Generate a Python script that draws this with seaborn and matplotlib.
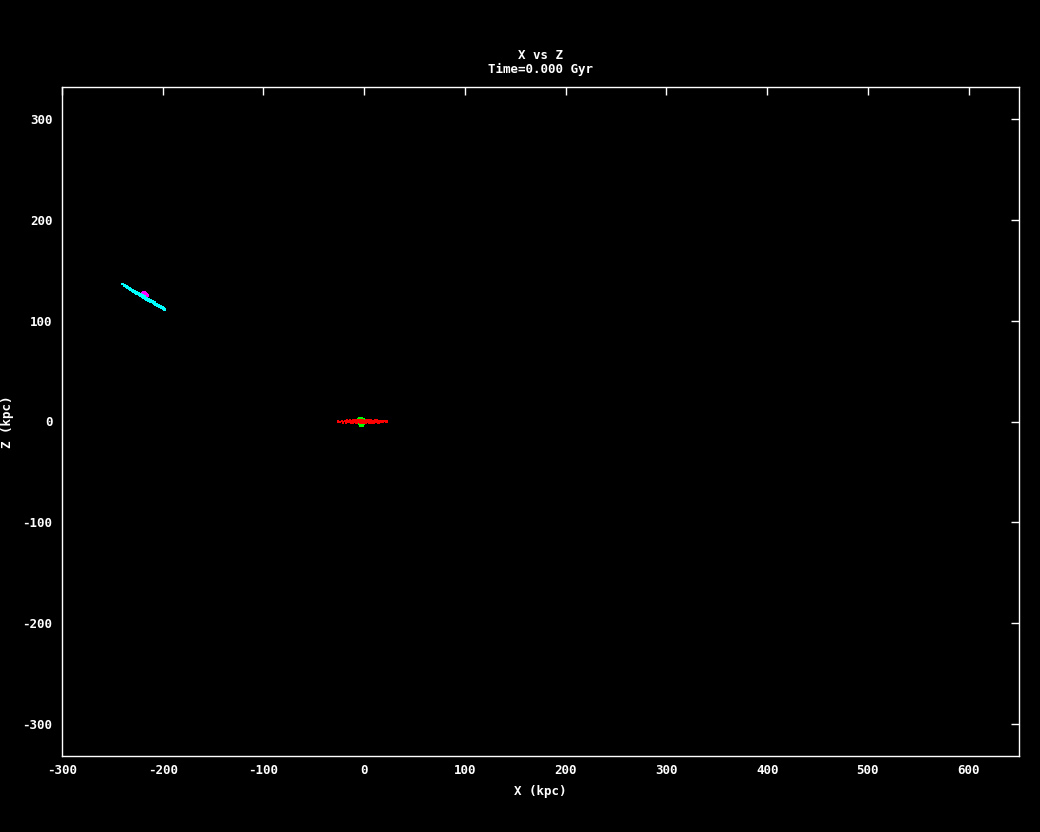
import numpy as np
import pandas as pd
import matplotlib
matplotlib.use("Agg")
import matplotlib.pyplot as plt
import seaborn as sb

# particle positions (kpc)
green_x = [-7, -6, -5, -4, -3, -2, -1, 0, 1, -5, -3, -1, -4, -2, -6, 0]
green_z = [0.5, 2.0, 2.8, 3.0, 2.8, 2.5, 1.8, 1.0, 0.0, -2.0, -3.0, -2.5, -4.5, -4.0, -1.0, -1.5]

red_x = [-26, -24, -22, -21, -19, -18, -16, -15, -14, -13, -12, -11, -10, -9, -8, -7, -6,
         -5, -4, -3, -2, -1, 0, 1, 2, 3, 4, 5, 6, 7, 8, 9, 10, 11, 12, 13, 14, 15, 16, 18,
         20, 22, -17, -12, -8, -4, 4, 8, 12, 16]
red_z = [0.0, -0.5, 0.4, -0.8, 0.6, -1.0, 0.3, -0.5, 0.8, -0.9, 0.2, 0.9, -0.6, 0.5, -1.1,
         1.0, -0.3, 0.7, -0.8, 0.4, 1.1, -1.0, 0.2, -0.7, 0.9, -0.4, 0.6, -0.9, 1.0, -0.2,
         0.5, -0.8, 0.3, 0.7, -0.5, 0.2, -0.9, 0.6, 0.1, -0.3, 0.4, 0.0, 0.9, -0.9, 0.8,
         -0.6, 1.2, -1.0, 0.8, -0.6]

magenta_x = [-221, -220, -219, -218, -217, -216, -215, -219, -217, -220, -216, -218]
magenta_z = [125.5, 127.0, 127.8, 128.0, 127.5, 126.5, 125.0, 122.5, 122.0, 124.0, 123.5, 125.5]

cyan_x = [-240, -238, -236, -235, -233, -232, -230, -229, -228, -227, -226, -225, -224,
          -223, -222, -221, -220, -219, -218, -217, -216, -215, -214, -213, -212, -211,
          -210, -209, -208, -207, -206, -205, -204, -203, -202, -201, -200, -199, -198,
          -222, -220, -218, -216, -214, -226, -212, -230, -208]
cyan_z = [136.5, 134.6, 133.9, 132.8, 132.2, 131.0, 130.6, 129.3, 129.4, 128.1, 128.3,
          126.9, 127.2, 125.8, 126.0, 124.6, 124.9, 123.4, 123.7, 122.3, 122.5, 121.1,
          121.3, 120.0, 120.1, 118.8, 119.0, 117.7, 117.8, 116.5, 116.6, 115.4, 115.4,
          114.2, 114.1, 113.0, 112.9, 111.9, 111.3, 124.8, 123.6, 124.6, 121.4, 120.2,
          127.0, 119.0, 129.8, 116.8]

x_ticks = [-300, -200, -100, 0, 100, 200, 300, 400, 500, 600]
z_ticks = [-300, -200, -100, 0, 100, 200, 300]

frames = []
for name, xs, zs in [("bulge1", green_x, green_z), ("disk1", red_x, red_z),
                     ("bulge2", magenta_x, magenta_z), ("disk2", cyan_x, cyan_z)]:
    frames.append(pd.DataFrame({"x": xs, "z": zs, "comp": name}))
data = pd.concat(frames, ignore_index=True)
palette = {"bulge1": "#00ff00", "disk1": "#ff0000", "bulge2": "#ff00ff", "disk2": "#00ffff"}

sb.set_style("dark")
plt.rcParams["font.family"] = ["DejaVu Sans Mono"]
plt.rcParams["font.weight"] = "bold"
plt.rcParams["axes.unicode_minus"] = False

fig = plt.figure(figsize=(10.4, 8.32), dpi=100, facecolor="black")
ax = fig.add_axes([62 / 1040, 1 - 756 / 832, (1019 - 62) / 1040, (756 - 87) / 832])
ax.set_facecolor("black")

sb.scatterplot(data=data, x="x", y="z", hue="comp", palette=palette, marker="s",
               s=4, linewidth=0, legend=False, ax=ax)

ax.set_xlim(-300, 650)
ax.set_ylim(-332, 332)
ax.set_xticks(x_ticks)
ax.set_yticks(z_ticks)
ax.grid(False)
for sp in ax.spines.values():
    sp.set_color("white")
    sp.set_linewidth(1)
ax.tick_params(direction="in", length=6, width=1, color="white", labelcolor="white",
               labelsize=9, top=True, right=True)
ax.tick_params(axis="x", pad=6)
ax.tick_params(axis="y", pad=7)
for lab in ax.get_xticklabels() + ax.get_yticklabels():
    lab.set_fontweight("bold")

ax.set_xlabel("X (kpc)", color="white", fontsize=9, fontweight="bold")
ax.set_ylabel("Z (kpc)", color="white", fontsize=9, fontweight="bold")
ax.xaxis.set_label_coords(0.5, -0.043)
ax.yaxis.set_label_coords(-0.05, 0.5)
ax.set_title("X vs Z\nTime=0.000 Gyr", color="white", fontsize=9, fontweight="bold",
             pad=10, linespacing=1.15)

fig.savefig("out.png", dpi=100, facecolor="black")
